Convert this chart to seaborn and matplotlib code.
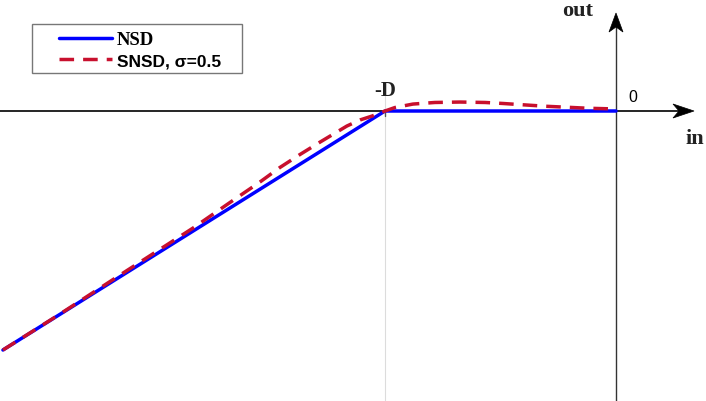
import numpy as np
import pandas as pd
import matplotlib
matplotlib.use("Agg")
import matplotlib.pyplot as plt
from matplotlib.patches import Polygon, Rectangle
from matplotlib.lines import Line2D
import seaborn as sns

# ---- data (input normalised so that D = 1) ----
nsd_in = [-2.654, -1.0, 0.0]
nsd_out = [-1.654, 0.0, 0.0]

snsd_in = [-2.654, -2.407, -2.117, -1.831, -1.671, -1.541, -1.455, -1.368, -1.281,
           -1.165, -1.108, -1.056, -1.000, -0.957, -0.879, -0.784, -0.675, -0.567,
           -0.489, -0.403, -0.307, -0.212, -0.121, 0.000]
snsd_out = [-1.654, -1.405, -1.104, -0.810, -0.633, -0.491, -0.391, -0.301, -0.215,
            -0.104, -0.062, -0.035, 0.000, 0.024, 0.048, 0.059, 0.062, 0.059,
            0.052, 0.043, 0.033, 0.026, 0.019, 0.014]

series_labels = ["NSD", "SNSD, \u03c3=0.5"]
axis_labels = {"x": "in", "y": "out", "mark": "-D", "origin": "0"}

W, H = 706, 402
sns.set_theme(style="white")
plt.rcParams["text.color"] = "black"
fig = plt.figure(figsize=(W / 100, H / 100), dpi=100)
ax = fig.add_axes([0, 0, 1, 1])
ax.set_axis_off()
ax.set_xlim(-616 / 231, 90 / 231)
ax.set_ylim(-290 / 144.5, 112 / 144.5)

BLUE = "#0000ff"
RED = "#c8102e"

def fx(px):
    return px / W

def fy(py):
    return 1 - py / H

# reference lines / axes
ax.axvline(-1.0, ymin=0, ymax=fy(96), color="#dcdcdc", lw=0.8, zorder=1)
ax.axhline(0, xmin=0, xmax=fx(688), color="black", lw=1.2, zorder=2)
ax.axvline(0, ymin=0, ymax=fy(28), color="#333333", lw=1.0, zorder=2)
ax.plot([-1, -1], [0, -5 / 144.5], color="#555555", lw=1.0, zorder=2)

df_nsd = pd.DataFrame({"in": nsd_in, "out": nsd_out})
df_snsd = pd.DataFrame({"in": snsd_in, "out": snsd_out})

sns.lineplot(data=df_nsd, x="in", y="out", ax=ax, color=BLUE, lw=2.5,
             estimator=None, sort=False, zorder=3, legend=False)
sns.lineplot(data=df_snsd, x="in", y="out", ax=ax, color=RED, lw=2.5,
             estimator=None, sort=False, zorder=4, legend=False)
ax.lines[-1].set_dashes((4.2, 2.6))
ax.lines[-1].set_dash_capstyle("butt")

# arrowheads (notched, MATLAB-like)
def xarrow(tip_px, y_px, length=21, half=7, notch=6):
    pts = [(tip_px, y_px), (tip_px - length, y_px - half),
           (tip_px - length + notch, y_px), (tip_px - length, y_px + half)]
    fig.patches.append(Polygon([(fx(a), fy(b)) for a, b in pts], closed=True,
                               transform=fig.transFigure, fc="black", ec="black", lw=0.5))

def yarrow(x_px, tip_py, length=19, half=7, notch=5):
    pts = [(x_px, tip_py), (x_px - half, tip_py + length),
           (x_px, tip_py + length - notch), (x_px + half, tip_py + length)]
    fig.patches.append(Polygon([(fx(a), fy(b)) for a, b in pts], closed=True,
                               transform=fig.transFigure, fc="black", ec="black", lw=0.5))

xarrow(694, 112)
yarrow(616, 14)

serif = ["Liberation Serif", "DejaVu Serif"]
sans = ["Liberation Sans", "DejaVu Sans"]
fig.text(fx(578), fy(11), axis_labels["y"], family=serif, weight="bold", fontsize=16,
         ha="center", va="center", color="#222222")
fig.text(fx(695), fy(139), axis_labels["x"], family=serif, weight="bold", fontsize=16,
         ha="center", va="center", color="#222222")
fig.text(fx(385), fy(91), axis_labels["mark"], family=serif, weight="bold", fontsize=15,
         ha="center", va="center", color="#222222")
fig.text(fx(633), fy(97), axis_labels["origin"], family=sans, fontsize=11.5,
         ha="center", va="center", color="black")

# legend
handles = [Line2D([0], [0], color=BLUE, lw=2.5),
           Line2D([0], [0], color=RED, lw=2.5, dashes=(4.2, 2.6), dash_capstyle="butt")]
leg = fig.legend(handles, series_labels, loc="upper left",
                 bbox_to_anchor=(fx(59), fy(32)), bbox_transform=fig.transFigure,
                 frameon=False,
                 prop={"family": sans, "weight": "bold", "size": 12.5},
                 handlelength=3.05, handletextpad=0.3, borderpad=0,
                 labelspacing=0.3, borderaxespad=0)
for t in leg.get_texts():
    t.set_color("black")
leg.get_texts()[0].set_fontfamily(serif)
leg.get_texts()[0].set_fontsize(13.5)
fig.patches.append(Rectangle((fx(32), fy(74)), fx(242) - fx(32), fy(25) - fy(74),
                             transform=fig.transFigure, fill=False,
                             ec="#777777", lw=1.0, zorder=5))

fig.savefig("out.png", dpi=100)
